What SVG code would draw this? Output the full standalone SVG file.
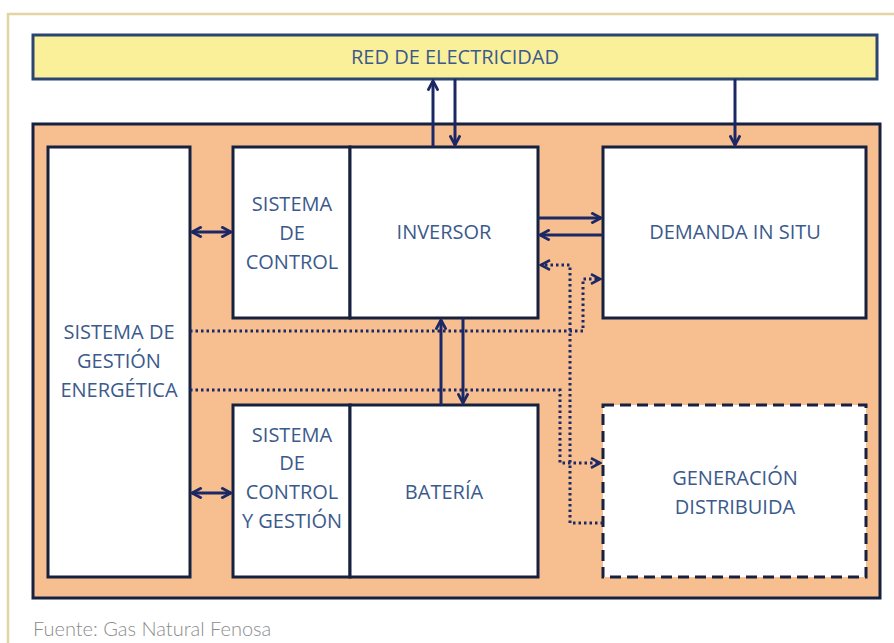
<svg xmlns="http://www.w3.org/2000/svg" width="894" height="643" viewBox="0 0 894 643">
<style>
.box{fill:#fff;stroke:#16213f;stroke-width:3}
.t{font-family:"Open Sans","Liberation Sans",sans-serif;font-size:20px;fill:#3b5a8c;text-anchor:middle}
.c{fill:none;stroke:#1c2866;stroke-width:3}
.d{fill:none;stroke:#1c2866;stroke-width:3;stroke-dasharray:2.5 3}
</style>
<defs>
<marker id="ah" viewBox="0 0 10 10" refX="8.5" refY="5" markerWidth="4.3" markerHeight="4.3" orient="auto-start-reverse" markerUnits="strokeWidth">
<path d="M1,1 L8.5,5 L1,9" fill="none" stroke="#1c2866" stroke-width="2.2"/>
</marker>
<marker id="ahd" viewBox="0 0 10 10" refX="8.5" refY="5" markerWidth="4" markerHeight="4" orient="auto-start-reverse" markerUnits="strokeWidth">
<path d="M1,1 L8.5,5 L1,9" fill="none" stroke="#1c2866" stroke-width="2.2"/>
</marker>
</defs>
<rect width="894" height="643" fill="#fff"/>
<path d="M8,643 V14 H894" fill="none" stroke="#e4d4a4" stroke-width="2.5"/>
<g id="red">
<rect x="33" y="35" width="844" height="44" fill="#fbf09a" stroke="#2c4570" stroke-width="3"/>
<text class="t" x="455" y="64">RED DE ELECTRICIDAD</text>
</g>
<g id="fondo">
<rect x="33" y="124" width="847" height="474" fill="#f7bf8f" stroke="#16213f" stroke-width="3"/>
</g>
<g id="gestion">
<rect class="box" x="48" y="147" width="142" height="430"/>
<text class="t" x="119" y="339">SISTEMA DE</text>
<text class="t" x="119" y="368">GESTIÓN</text>
<text class="t" x="119" y="397">ENERGÉTICA</text>
</g>
<g id="control">
<rect class="box" x="233" y="147" width="117" height="171"/>
<text class="t" x="292" y="211">SISTEMA</text>
<text class="t" x="292" y="240">DE</text>
<text class="t" x="292" y="269">CONTROL</text>
</g>
<g id="inversor">
<rect class="box" x="350" y="147" width="188" height="171"/>
<text class="t" x="444" y="239">INVERSOR</text>
</g>
<g id="demanda">
<rect class="box" x="603" y="147" width="263" height="171"/>
<text class="t" x="735" y="239">DEMANDA IN SITU</text>
</g>
<g id="control-gestion">
<rect class="box" x="233" y="405" width="117" height="172"/>
<text class="t" x="292" y="442">SISTEMA</text>
<text class="t" x="292" y="470">DE</text>
<text class="t" x="292" y="499">CONTROL</text>
<text class="t" x="292" y="528">Y GESTIÓN</text>
</g>
<g id="bateria">
<rect class="box" x="350" y="405" width="188" height="172"/>
<text class="t" x="444" y="499">BATERÍA</text>
</g>
<g id="generacion">
<rect x="603" y="405" width="263" height="172" fill="#fff" stroke="#16213f" stroke-width="3" stroke-dasharray="11 6"/>
<text class="t" x="735" y="485">GENERACIÓN</text>
<text class="t" x="735" y="514">DISTRIBUIDA</text>
</g>
<g id="connectors">
<path class="c" d="M433,147 V81" marker-end="url(#ah)"/>
<path class="c" d="M455,79 V145" marker-end="url(#ah)"/>
<path class="c" d="M735,79 V145" marker-end="url(#ah)"/>
<path class="c" d="M192,232 H231" marker-start="url(#ah)" marker-end="url(#ah)"/>
<path class="c" d="M192,493 H231" marker-start="url(#ah)" marker-end="url(#ah)"/>
<path class="c" d="M538,218 H601" marker-end="url(#ah)"/>
<path class="c" d="M603,235 H540" marker-end="url(#ah)"/>
<path class="c" d="M441,405 V320" marker-end="url(#ah)"/>
<path class="c" d="M463,318 V403" marker-end="url(#ah)"/>
<path class="d" d="M603,523 H570 V265 H541" marker-end="url(#ahd)"/>
<path class="d" d="M190,331 H583 V279 H600" marker-end="url(#ahd)"/>
<path class="d" d="M190,390 H560 V463 H600" marker-end="url(#ahd)"/>
</g>
<text x="33" y="636" font-family="Lato,'Liberation Sans',sans-serif" font-weight="300" font-size="20" fill="#8c8c8c">Fuente: Gas Natural Fenosa</text>
</svg>
